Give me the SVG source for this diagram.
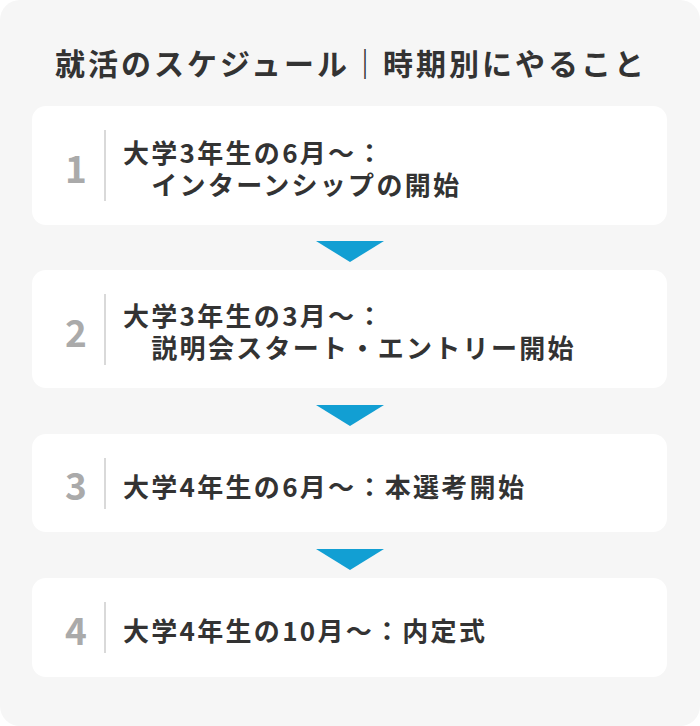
<svg xmlns="http://www.w3.org/2000/svg" width="700" height="726" viewBox="0 0 700 726">
<style>
.bg{fill:#f6f6f6}
.card{fill:#ffffff}
.t{font-family:"Noto Sans CJK JP","Noto Sans",sans-serif;font-weight:700;fill:#333333}
.title{font-size:30px;letter-spacing:3px}
.txt{font-size:26px;letter-spacing:2.3px}
.num{font-family:"Noto Sans CJK JP","Noto Sans",sans-serif;font-weight:700;font-size:37px;fill:#aaaaaa;text-anchor:middle}
.div{stroke:#cccccc;stroke-width:1.5}
.arr{fill:#129fd3}
</style>
<rect class="bg" x="0" y="0" width="700" height="726" rx="20"/>
<text class="t title" x="351" y="75" text-anchor="middle">就活のスケジュール｜時期別にやること</text>
<g id="node1">
<rect class="card" x="32" y="106" width="635" height="119" rx="14"/>
<text class="num" x="76" y="183">1</text>
<line class="div" x1="105" y1="130" x2="105" y2="201"/>
<text class="t txt" x="123" y="163">大学3年生の6月〜：<tspan x="123" dy="32">　インターンシップの開始</tspan></text>
</g>
<g id="node2">
<rect class="card" x="32" y="270" width="635" height="118" rx="14"/>
<text class="num" x="76" y="347">2</text>
<line class="div" x1="105" y1="294" x2="105" y2="365"/>
<text class="t txt" x="123" y="326">大学3年生の3月〜：<tspan x="123" dy="32">　説明会スタート・エントリー開始</tspan></text>
</g>
<g id="node3">
<rect class="card" x="32" y="434" width="635" height="98" rx="14"/>
<text class="num" x="76" y="500">3</text>
<line class="div" x1="105" y1="458" x2="105" y2="509"/>
<text class="t txt" x="123" y="497">大学4年生の6月〜：本選考開始</text>
</g>
<g id="node4">
<rect class="card" x="32" y="578" width="635" height="99" rx="14"/>
<text class="num" x="76" y="645">4</text>
<line class="div" x1="105" y1="602" x2="105" y2="653"/>
<text class="t txt" x="123" y="641">大学4年生の10月〜：内定式</text>
</g>
<g id="connectors">
<polygon class="arr" points="316,241 384,241 350,262"/>
<polygon class="arr" points="316,405 384,405 350,426"/>
<polygon class="arr" points="316,549 384,549 350,570"/>
</g>
</svg>
